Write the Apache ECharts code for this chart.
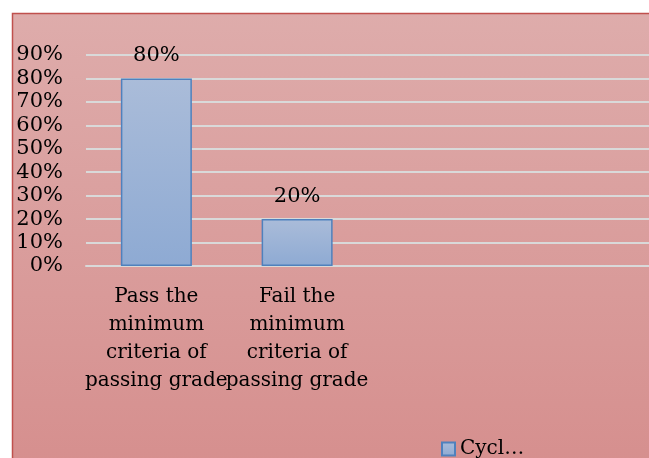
<!DOCTYPE html>
<html>
<head>
<meta charset="utf-8">
<script src="https://cdn.jsdelivr.net/npm/echarts@6/dist/echarts.min.js"></script>
<style>
html,body{margin:0;padding:0;background:#fff;}
#c{width:649px;height:458px;}
</style>
</head>
<body>
<div id="c"></div>
<script>
var categories = ["Pass the\nminimum\ncriteria of\npassing grade", "Fail the\nminimum\ncriteria of\npassing grade"];
var seriesName = "Cycl\u2026";
var values = [80, 20];
var yTicks = [0, 10, 20, 30, 40, 50, 60, 70, 80, 90];

var FONT = "DejaVu Serif";
var chart = echarts.init(document.getElementById('c'), null, {renderer: 'canvas'});
chart.setOption({
  animation: false,
  graphic: [{
    type: 'rect', z: -10, silent: true,
    shape: {x: 12.5, y: 13.5, width: 700, height: 500},
    style: {
      fill: new echarts.graphic.LinearGradient(0, 0, 0, 1, [
        {offset: 0, color: '#deacab'},
        {offset: 1, color: '#d58c8b'}
      ]),
      stroke: '#c0504d', lineWidth: 1.5
    }
  }],
  grid: {left: 86, right: 0, top: 55, height: 211, containLabel: false},
  legend: {
    show: true, left: 441, top: 439, padding: 0,
    icon: 'rect', itemWidth: 13, itemHeight: 13, itemGap: 6,
    textStyle: {fontFamily: FONT, fontSize: 20, color: '#000'},
    data: [seriesName]
  },
  xAxis: {
    type: 'category', data: categories, max: 3,
    axisLine: {show: true, lineStyle: {color: '#d9d9d9', width: 2}},
    axisTick: {show: false},
    axisLabel: {interval: 0, margin: 17, fontFamily: FONT, fontSize: 20, lineHeight: 28, color: '#000'},
    splitLine: {show: false}
  },
  yAxis: {
    type: 'value', min: 0, max: 90, interval: 10,
    axisLine: {show: false}, axisTick: {show: false},
    axisLabel: {margin: 23, fontFamily: FONT, fontSize: 21, color: '#000', formatter: function(v){ return v + '%'; }},
    splitLine: {show: true, lineStyle: {color: '#d9d9d9', width: 2}}
  },
  series: [{
    name: seriesName, type: 'bar', data: values, barWidth: 71,
    itemStyle: {
      color: new echarts.graphic.LinearGradient(0, 0, 0, 1, [
        {offset: 0, color: '#aabcd9'},
        {offset: 1, color: '#8eaad3'}
      ]),
      borderColor: '#4f81bd', borderWidth: 1.5
    },
    label: {show: true, position: 'top', distance: 12, fontFamily: FONT, fontSize: 21, color: '#000', formatter: function(p){ return p.value + '%'; }}
  }]
});
</script>
</body>
</html>
